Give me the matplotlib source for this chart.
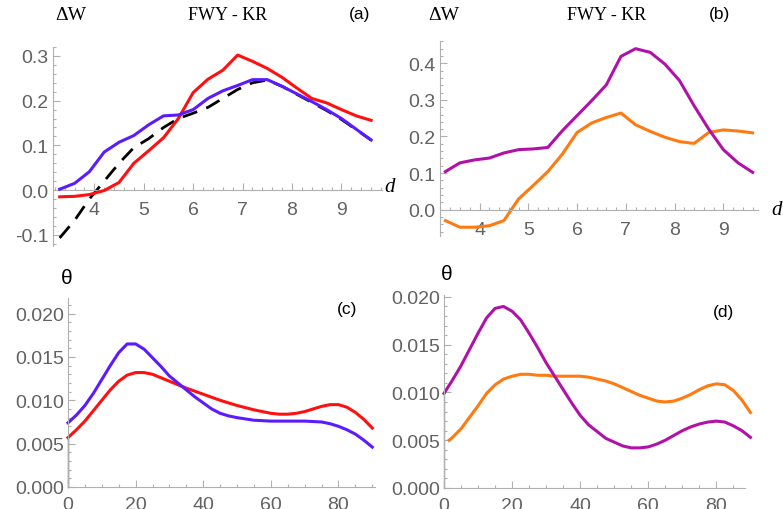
import numpy as np
import matplotlib
matplotlib.use("Agg")
import matplotlib.pyplot as plt
from matplotlib.ticker import MultipleLocator, FormatStrFormatter

# --- данные ---
d = [3.3, 3.6, 3.9, 4.2, 4.5, 4.8, 5.1, 5.4, 5.7, 6.0, 6.3,
     6.6, 6.9, 7.2, 7.5, 7.8, 8.1, 8.4, 8.7, 9.0, 9.3, 9.6]

# (a)
dw_a_red = [-0.015, -0.014, -0.010, -0.001, 0.017, 0.060, 0.088, 0.117, 0.160, 0.218, 0.248,
            0.268, 0.302, 0.288, 0.272, 0.252, 0.228, 0.205, 0.195, 0.180, 0.166, 0.156]
dw_a_blue = [0.002, 0.015, 0.041, 0.085, 0.107, 0.122, 0.146, 0.166, 0.168, 0.180, 0.205,
             0.222, 0.234, 0.247, 0.247, 0.232, 0.215, 0.198, 0.180, 0.160, 0.136, 0.112]
dw_a_black = [-0.107, -0.068, -0.020, 0.020, 0.060, 0.095, 0.115, 0.140, 0.160, 0.172, 0.185,
              0.205, 0.225, 0.240, 0.246, 0.232, 0.214, 0.196, 0.178, 0.158, 0.135, 0.112]

# (b)
dw_b_purple = [0.104, 0.128, 0.136, 0.141, 0.155, 0.164, 0.166, 0.170, 0.216, 0.257, 0.298,
               0.341, 0.419, 0.440, 0.430, 0.398, 0.353, 0.284, 0.220, 0.164, 0.128, 0.102]
dw_b_orange = [-0.030, -0.048, -0.048, -0.044, -0.030, 0.029, 0.066, 0.104, 0.152, 0.211, 0.237,
               0.252, 0.264, 0.232, 0.214, 0.198, 0.186, 0.181, 0.211, 0.218, 0.215, 0.210]

# (c)
ang_c = [0, 2.5, 5, 7.5, 10, 12.5, 15, 17.5, 20, 22.5, 25, 27.5, 30, 32.5, 35, 37.5, 40,
         42.5, 45, 47.5, 50, 55, 60, 65, 70, 75, 77.5, 80, 82.5, 85, 87.5, 90]
th_c_blue = [0.0074, 0.0083, 0.0094, 0.0108, 0.0124, 0.0140, 0.0155, 0.0165, 0.0165, 0.0159,
             0.0149, 0.0139, 0.0128, 0.0120, 0.0112, 0.0104, 0.0097, 0.0090, 0.0085, 0.0082,
             0.0080, 0.0077, 0.0076, 0.0076, 0.0076, 0.0075, 0.0073, 0.0070, 0.0066, 0.0061,
             0.0054, 0.0046]
ang_c_red = [0, 2.5, 5, 7.5, 10, 12.5, 15, 17.5, 20, 22.5, 25, 27.5, 30, 32.5, 35, 40, 45,
             50, 55, 60, 62.5, 65, 67.5, 70, 72.5, 75, 77.5, 80, 82.5, 85, 87.5, 90]
th_c_red = [0.0057, 0.0066, 0.0076, 0.0088, 0.0100, 0.0112, 0.0122, 0.0129, 0.0132, 0.0132,
            0.0130, 0.0126, 0.0122, 0.0118, 0.0114, 0.0107, 0.0100, 0.0094, 0.0089, 0.0085,
            0.0084, 0.0084, 0.0085, 0.0087, 0.0090, 0.0093, 0.0095, 0.0095, 0.0092, 0.0086,
            0.0078, 0.0068]

# (d)
ang_d = [0, 2.5, 5, 7.5, 10, 12.5, 15, 17.5, 20, 22.5, 25, 27.5, 30, 32.5, 35, 37.5, 40,
         42.5, 45, 47.5, 50, 52.5, 55, 57.5, 60, 62.5, 65, 67.5, 70, 72.5, 75, 77.5, 80,
         82.5, 85, 87.5, 90]
th_d_purple = [0.0099, 0.0113, 0.0128, 0.0145, 0.0162, 0.0178, 0.0188, 0.0190, 0.0185, 0.0176,
               0.0162, 0.0147, 0.0131, 0.0117, 0.0103, 0.0089, 0.0076, 0.0066, 0.0059, 0.0052,
               0.0048, 0.0044, 0.0042, 0.0042, 0.0043, 0.0046, 0.0050, 0.0055, 0.0060, 0.0064,
               0.0067, 0.0069, 0.0070, 0.0069, 0.0065, 0.0060, 0.0053]
ang_d_orange = [1.5, 2.5, 5, 7.5, 10, 12.5, 15, 17.5, 20, 22.5, 25, 27.5, 30, 32.5, 35, 37.5,
                40, 42.5, 45, 47.5, 50, 52.5, 55, 57.5, 60, 62.5, 65, 67.5, 70, 72.5, 75, 77.5,
                80, 82.5, 85, 87.5, 90]
th_d_orange = [0.0050, 0.0053, 0.0062, 0.0074, 0.0086, 0.0099, 0.0108, 0.0114, 0.0117, 0.0119,
               0.0119, 0.0118, 0.0118, 0.0117, 0.0117, 0.0117, 0.0117, 0.0116, 0.0114, 0.0112,
               0.0109, 0.0105, 0.0101, 0.0097, 0.0094, 0.0091, 0.0090, 0.0091, 0.0094, 0.0098,
               0.0103, 0.0107, 0.0109, 0.0108, 0.0102, 0.0092, 0.0079]

RED = '#ff1010'
BLUE = '#5a1cff'
PURPLE = '#b012a8'
ORANGE = '#ff7a10'
TICK_GRAY = '#626262'
AX_GRAY = '#b0b0b0'

plt.rcParams['font.family'] = ['Liberation Sans', 'DejaVu Sans']

W, H = 783, 510
fig = plt.figure(figsize=(W / 100, H / 100), dpi=100)


def make_ax(l, r, t, b):
    return fig.add_axes([l / W, 1 - b / H, (r - l) / W, (b - t) / H])


def style(ax, xmaj, xmin, ymaj, ymin, yfmt, xpad, ypad):
    for s in ['top', 'right']:
        ax.spines[s].set_visible(False)
    for s in ['left', 'bottom']:
        ax.spines[s].set_color(AX_GRAY)
        ax.spines[s].set_linewidth(0.8)
    ax.spines['bottom'].set_position(('data', 0))
    ax.xaxis.set_major_locator(MultipleLocator(xmaj))
    ax.xaxis.set_minor_locator(MultipleLocator(xmin))
    ax.yaxis.set_major_locator(MultipleLocator(ymaj))
    ax.yaxis.set_minor_locator(MultipleLocator(ymin))
    ax.yaxis.set_major_formatter(FormatStrFormatter(yfmt))
    ax.tick_params(which='both', direction='in', color=AX_GRAY, width=0.8,
                   labelcolor=TICK_GRAY, labelsize=14)
    ax.tick_params(which='major', length=5)
    ax.tick_params(which='minor', length=2.5)
    ax.tick_params(axis='x', pad=xpad)
    ax.tick_params(axis='y', pad=ypad)
    ax.patch.set_alpha(0)


def ftext(x, y, s, **kw):
    fig.text(x / W, 1 - y / H, s, ha='center', va='center', **kw)


# (a)
ax_a = make_ax(53, 382, 48, 247)
ax_a.plot(d, dw_a_black, color='black', lw=2.0, dashes=(5.5, 3.5), zorder=2)
ax_a.plot(d, dw_a_red, color=RED, lw=2.2, zorder=3)
ax_a.plot(d, dw_a_blue, color=BLUE, lw=2.2, zorder=4)
ax_a.set_xlim(3.165, 9.82)
ax_a.set_ylim(-0.125, 0.32)
style(ax_a, 1, 0.2, 0.1, 0.02, '%.1f', 8, 3)
ax_a.set_xticks([4, 5, 6, 7, 8, 9])

# (b)
ax_b = make_ax(440, 758, 42, 237)
ax_b.plot(d, dw_b_orange, color=ORANGE, lw=2.2)
ax_b.plot(d, dw_b_purple, color=PURPLE, lw=2.2)
ax_b.set_xlim(3.19, 9.71)
ax_b.set_ylim(-0.072, 0.461)
style(ax_b, 1, 0.2, 0.1, 0.02, '%.1f', 8, 3)
ax_b.set_xticks([4, 5, 6, 7, 8, 9])

# (c)
ax_c = make_ax(68, 375, 299, 488)
ax_c.plot([0, 0], [0, th_c_red[0]], color=RED, lw=1.0, clip_on=False)
ax_c.plot(ang_c_red, th_c_red, color=RED, lw=2.2, clip_on=False)
ax_c.plot(ang_c, th_c_blue, color=BLUE, lw=2.2, clip_on=False)
ax_c.set_xlim(0, 90.8)
ax_c.set_ylim(0, 0.0218)
style(ax_c, 20, 5, 0.005, 0.001, '%.3f', 6.5, 3)
ax_c.set_xticks([0, 20, 40, 60, 80])

# (d)
ax_d = make_ax(444, 745, 296, 489)
ax_d.plot([0, 0], [0, th_d_purple[0]], color=PURPLE, lw=1.0, alpha=0.6, clip_on=False)
ax_d.plot(ang_d_orange, th_d_orange, color=ORANGE, lw=2.2, clip_on=False)
ax_d.plot(ang_d, th_d_purple, color=PURPLE, lw=2.2, clip_on=False)
ax_d.set_xlim(0, 88.4)
ax_d.set_ylim(0, 0.0202)
style(ax_d, 20, 5, 0.005, 0.001, '%.3f', 6.5, 3)
ax_d.set_xticks([0, 20, 40, 60, 80])

# подписи
serif = ['Liberation Serif', 'DejaVu Serif']
ftext(71, 15, 'ΔW', family=serif, fontsize=14)
ftext(228, 15, 'FWY - KR', family=serif, fontsize=13)
ftext(360, 15, '(a)', fontsize=12.5)
ftext(390, 188, 'd', family=serif, style='italic', fontsize=15)

ftext(444, 15, 'ΔW', family=serif, fontsize=14)
ftext(607, 15, 'FWY - KR', family=serif, fontsize=13)
ftext(720, 15, '(b)', fontsize=12.5)
ftext(777, 211, 'd', family=serif, style='italic', fontsize=15)

ftext(67, 279, 'θ', fontsize=15)
ftext(347, 310, '(c)', fontsize=12.5)
ftext(447, 275, 'θ', fontsize=15)
ftext(723, 312, '(d)', fontsize=12.5)

fig.savefig('out.png', dpi=100)
